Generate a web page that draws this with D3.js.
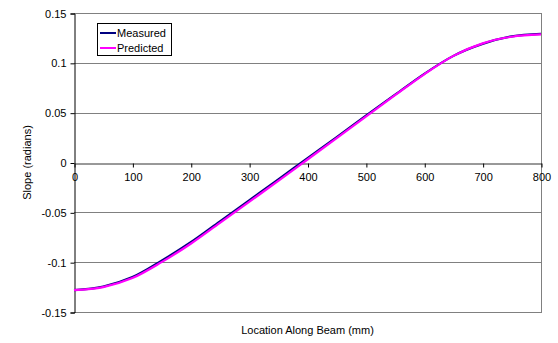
<!DOCTYPE html>
<html>
<head>
<meta charset="utf-8">
<script src="https://cdn.jsdelivr.net/npm/d3@7"></script>
<style>
  html, body { margin: 0; padding: 0; background: #fff; }
  svg { display: block; font-family: "Liberation Sans", Arial, sans-serif; }
</style>
</head>
<body>
<svg id="chart" width="558" height="343"></svg>
<script>
// Beam slope along its length, measured vs predicted
const locations = [0, 50, 100, 150, 200, 250, 300, 350, 400, 450, 500, 550, 600, 650, 700, 750, 800];
const measured  = [-0.128, -0.1245, -0.115, -0.0985, -0.080, -0.059, -0.038, -0.017, 0.0045, 0.0255, 0.047, 0.068, 0.089, 0.107, 0.119, 0.1265, 0.129];
const predicted = [-0.128, -0.125, -0.116, -0.100, -0.0815, -0.0605, -0.0395, -0.0185, 0.0030, 0.0245, 0.0460, 0.0675, 0.0885, 0.1070, 0.1195, 0.1262, 0.1285];
const xTicks = [0, 100, 200, 300, 400, 500, 600, 700, 800];
const yTicks = [-0.15, -0.1, -0.05, 0, 0.05, 0.1, 0.15];
const seriesNames = ["Measured", "Predicted"];
const seriesColors = ["#000080", "#FF00FF"];

const svg = d3.select("#chart");
const plotLeft = 74, plotRight = 541, plotTop = 13, plotBottom = 312;

const x = d3.scaleLinear().domain([0, 800]).range([plotLeft, plotRight]);
const y = d3.scaleLinear().domain([-0.15, 0.15]).range([plotBottom, plotTop]);

// horizontal gridlines
svg.append("g").selectAll("line").data(yTicks.filter(d => d !== 0)).join("line")
  .attr("x1", plotLeft).attr("x2", plotRight)
  .attr("y1", d => Math.round(y(d)) + 0.5).attr("y2", d => Math.round(y(d)) + 0.5)
  .attr("stroke", "#808080").attr("stroke-width", 1);

// right border
svg.append("line")
  .attr("x1", plotRight + 0.5).attr("x2", plotRight + 0.5)
  .attr("y1", plotTop).attr("y2", plotBottom + 1)
  .attr("stroke", "#808080");

// y axis
const yAxis = d3.axisLeft(y).tickValues(yTicks).tickSize(4).tickPadding(4)
  .tickFormat(d => d === 0 ? "0" : String(+d.toFixed(2)));
const gy = svg.append("g").attr("transform", `translate(${plotLeft + 0.5},0.5)`).call(yAxis);
gy.select(".domain").attr("stroke", "#000");
gy.selectAll(".tick line").attr("stroke", "#000");
gy.selectAll("text").attr("font-size", 11).attr("fill", "#000")
  .attr("font-family", "'Liberation Sans', Arial, sans-serif");

// x axis along the zero line
const xAxis = d3.axisBottom(x).tickValues(xTicks).tickSize(4).tickPadding(6).tickSizeOuter(0)
  .tickFormat(d3.format("d"));
const gx = svg.append("g").attr("transform", `translate(0.5,${Math.round(y(0)) + 0.5})`).call(xAxis);
gx.select(".domain").attr("stroke", "#333");
gx.selectAll(".tick line").attr("stroke", "#000");
gx.selectAll("text").attr("font-size", 11).attr("fill", "#000")
  .attr("font-family", "'Liberation Sans', Arial, sans-serif");

// series lines
const line = d3.line().x((d, i) => x(locations[i])).y(d => y(d)).curve(d3.curveMonotoneX);
svg.append("path").datum(measured)
  .attr("d", line).attr("fill", "none")
  .attr("stroke", seriesColors[0]).attr("stroke-width", 2.2);
svg.append("path").datum(predicted)
  .attr("d", line).attr("fill", "none")
  .attr("stroke", seriesColors[1]).attr("stroke-width", 2.2);

// axis titles
svg.append("text")
  .attr("x", (plotLeft + plotRight) / 2).attr("y", 334)
  .attr("text-anchor", "middle").attr("font-size", 11).attr("fill", "#000")
  .text("Location Along Beam (mm)");
svg.append("text")
  .attr("transform", `translate(31,${(plotTop + plotBottom) / 2}) rotate(-90)`)
  .attr("text-anchor", "middle").attr("font-size", 11).attr("fill", "#000")
  .text("Slope (radians)");

// legend
const lg = svg.append("g").attr("transform", "translate(97,23)");
lg.append("rect").attr("x", 0.5).attr("y", 0.5).attr("width", 74).attr("height", 32)
  .attr("fill", "#fff").attr("stroke", "#000").attr("stroke-width", 1);
seriesNames.forEach((name, i) => {
  const cy = 10 + i * 15;
  lg.append("line").attr("x1", 3).attr("x2", 19).attr("y1", cy).attr("y2", cy)
    .attr("stroke", seriesColors[i]).attr("stroke-width", 2);
  lg.append("text").attr("x", 20).attr("y", cy + 4)
    .attr("font-size", 11).attr("fill", "#000").text(name);
});
</script>
</body>
</html>
